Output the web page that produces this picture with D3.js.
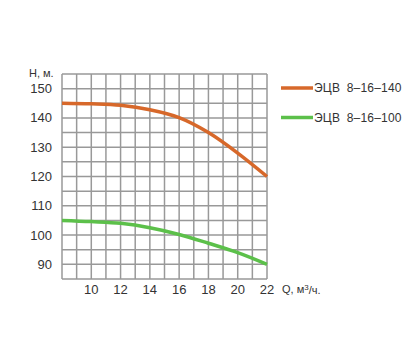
<!DOCTYPE html>
<html>
<head>
<meta charset="utf-8">
<script src="https://cdn.jsdelivr.net/npm/d3@7"></script>
<style>
  body { margin: 0; background: #fff; }
  #chart { width: 419px; height: 352px; }
  text { font-family: "Liberation Sans", Arial, sans-serif; fill: #333; }
</style>
</head>
<body>
<div id="chart"></div>
<script>
/* DATA */
var flow = [8, 10, 12, 14, 16, 18, 20, 22];
var head140 = [145, 144.8, 144.3, 142.8, 140.1, 135, 128, 120];
var head100 = [105, 104.6, 104, 102.5, 100.2, 97.2, 94, 90];
var seriesNames = ["ЭЦВ 8–16–140", "ЭЦВ 8–16–100"];
var seriesColors = ["#d7682a", "#5cc04a"];
var xTicks = [10, 12, 14, 16, 18, 20, 22];
var yTicks = [90, 100, 110, 120, 130, 140, 150];

/* SVG */
var width = 419, height = 352;
var svg = d3.select("#chart").append("svg")
    .attr("width", width)
    .attr("height", height);

var x = d3.scaleLinear().domain([8, 22]).range([62, 267]);
var y = d3.scaleLinear().domain([85, 155]).range([279, 74]);

/* GRID */
var grid = svg.append("g").attr("stroke", "#999").attr("stroke-width", 1.5);
grid.selectAll("line.v")
    .data(d3.range(8, 23, 1))
    .enter().append("line")
        .attr("x1", function(d) { return x(d); })
        .attr("x2", function(d) { return x(d); })
        .attr("y1", y(155))
        .attr("y2", y(85));
grid.selectAll("line.h")
    .data(d3.range(85, 156, 5))
    .enter().append("line")
        .attr("y1", function(d) { return y(d); })
        .attr("y2", function(d) { return y(d); })
        .attr("x1", x(8))
        .attr("x2", x(22));

/* TICK LABELS */
svg.selectAll("text.ylab")
    .data(yTicks)
    .enter().append("text")
        .attr("x", 52)
        .attr("y", function(d) { return y(d); })
        .attr("dy", "0.35em")
        .attr("text-anchor", "end")
        .attr("font-size", 13)
        .text(function(d) { return d; });

svg.selectAll("text.xlab")
    .data(xTicks)
    .enter().append("text")
        .attr("x", function(d) { return x(d); })
        .attr("y", 289)
        .attr("dy", "0.35em")
        .attr("text-anchor", "middle")
        .attr("font-size", 13)
        .text(function(d) { return d; });

svg.append("text")
    .attr("x", 29).attr("y", 73).attr("dy", "0.35em")
    .attr("font-size", 11)
    .text("Н, м.");

var q = svg.append("text")
    .attr("x", 282).attr("y", 289).attr("dy", "0.35em")
    .attr("font-size", 11);
q.append("tspan").text("Q, м");
q.append("tspan").attr("dy", "-0.4em").attr("font-size", 8).text("3");
q.append("tspan").attr("dy", "0.4em").text("/ч.");

/* CURVES */
var line = d3.line()
    .x(function(d) { return x(d[0]); })
    .y(function(d) { return y(d[1]); })
    .curve(d3.curveMonotoneX);

[head140, head100].forEach(function(h, i) {
    svg.append("path")
        .datum(flow.map(function(f, j) { return [f, h[j]]; }))
        .attr("fill", "none")
        .attr("stroke", seriesColors[i])
        .attr("stroke-width", 3.5)
        .attr("d", line);
});

/* LEGEND */
seriesNames.forEach(function(n, i) {
    var ly = 88 + i * 29.5;
    svg.append("line")
        .attr("x1", 281).attr("x2", 313)
        .attr("y1", ly).attr("y2", ly)
        .attr("stroke", seriesColors[i])
        .attr("stroke-width", 3.5);
    svg.append("text")
        .attr("x", 314).attr("y", ly).attr("dy", "0.35em")
        .attr("font-size", 12)
        .attr("word-spacing", 3)
        .attr("letter-spacing", 0.2)
        .text(n);
});
</script>
</body>
</html>
